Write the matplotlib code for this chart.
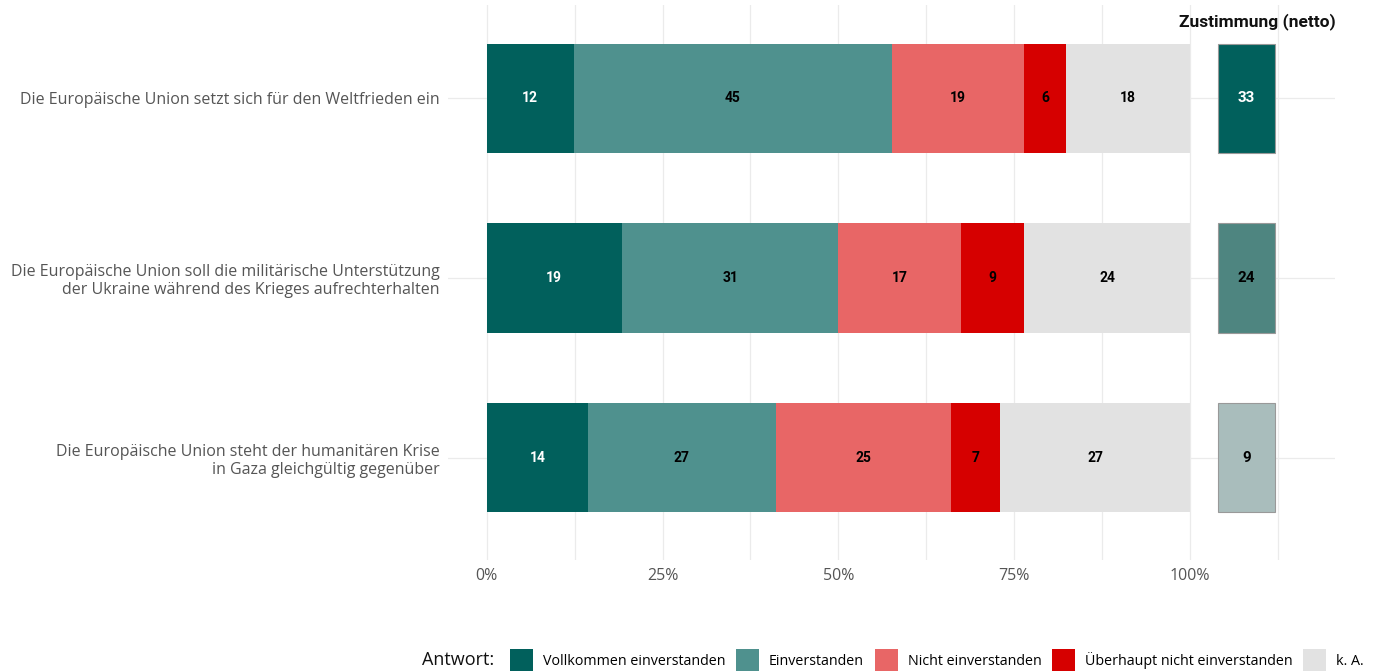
import matplotlib
matplotlib.use("Agg")
import matplotlib.pyplot as plt
from matplotlib.patches import Patch
import numpy as np

statements = [
    "Die Europäische Union setzt sich für den Weltfrieden ein",
    "Die Europäische Union soll die militärische Unterstützung\nder Ukraine während des Krieges aufrechterhalten",
    "Die Europäische Union steht der humanitären Krise\nin Gaza gleichgültig gegenüber",
]
categories = ["Vollkommen einverstanden", "Einverstanden", "Nicht einverstanden",
              "Überhaupt nicht einverstanden", "k. A."]
vollkommen = [12.4, 19.2, 14.4]
einverstanden = [45.2, 30.8, 26.7]
nicht = [18.8, 17.4, 24.9]
ueberhaupt = [6.0, 9.0, 7.0]
ka = [17.6, 23.6, 27.0]
netto = [33, 24, 9]

colors = ["#01605C", "#4F918E", "#E86666", "#D60000", "#E2E2E2"]
text_colors = ["white", "black", "black", "black", "black"]
netto_colors = ["#01605C", "#4E8580", "#A9BDBC"]
netto_text = ["white", "black", "black"]

fig = plt.figure(figsize=(13.79, 6.72), dpi=100)
ax = fig.add_axes([448 / 1379, 112 / 672, (1335 - 448) / 1379, 555 / 672])

y = np.arange(1, len(statements) + 1)
series = [vollkommen, einverstanden, nicht, ueberhaupt, ka]
left = np.zeros(len(statements))
for vals, col, tc in zip(series, colors, text_colors):
    vals = np.array(vals)
    ax.barh(y, vals, left=left, height=0.61, color=col, zorder=2)
    for yi, l, v in zip(y, left, vals):
        ax.text(l + v / 2, yi, f"{v:.0f}", ha="center", va="center",
                color=tc, fontsize=10, fontweight="bold", family="Roboto", zorder=3)
    left += vals

# net agreement column
ax.barh(y, [8] * len(y), left=104, height=0.61, color=netto_colors,
        edgecolor="#999999", linewidth=0.8, zorder=2)
for yi, n, tc in zip(y, netto, netto_text):
    ax.text(108, yi, str(n), ha="center", va="center", color=tc,
            fontsize=11, fontweight="bold", family="Roboto", zorder=3)
fig.text(1257 / 1379, 1 - 22 / 672, "Zustimmung (netto)", ha="center", va="center",
         fontsize=12.5, fontweight="bold", family="Roboto", color="#111111")

ax.set_xlim(-5.5, 120.6)
ax.set_ylim(3.57, 0.48)
ax.set_xticks([0, 25, 50, 75, 100])
ax.set_xticklabels(["0%", "25%", "50%", "75%", "100%"])
ax.set_xticks(np.arange(12.5, 113, 25), minor=True)
ax.set_yticks(y)
ax.set_yticklabels(statements)
ax.tick_params(axis="both", length=0, colors="#555555", labelsize=11.5, pad=6)
ax.tick_params(axis="x", which="minor", length=0)
for lab in ax.get_xticklabels() + ax.get_yticklabels():
    lab.set_family("Open Sans")
    lab.set_color("#555555")
ax.grid(True, which="both", axis="x", color="#EBEBEB", linewidth=0.9, zorder=0)
ax.grid(True, which="major", axis="y", color="#EBEBEB", linewidth=0.9, zorder=0)
ax.set_axisbelow(True)
for s in ax.spines.values():
    s.set_visible(False)

handles = [Patch(facecolor=c, edgecolor="none") for c in colors]
fig.legend(handles, categories, loc="center left", bbox_to_anchor=(497 / 1379, 1 - 660 / 672),
           ncol=5, frameon=False, handlelength=1.6, handleheight=1.9, handletextpad=0.7,
           columnspacing=0.75, prop={"family": "Open Sans", "size": 10.3})
fig.text(494 / 1379, 1 - 660 / 672, "Antwort:", ha="right", va="center",
         fontsize=13, family="Open Sans", color="#111111")

fig.savefig("out.png", dpi=100)
